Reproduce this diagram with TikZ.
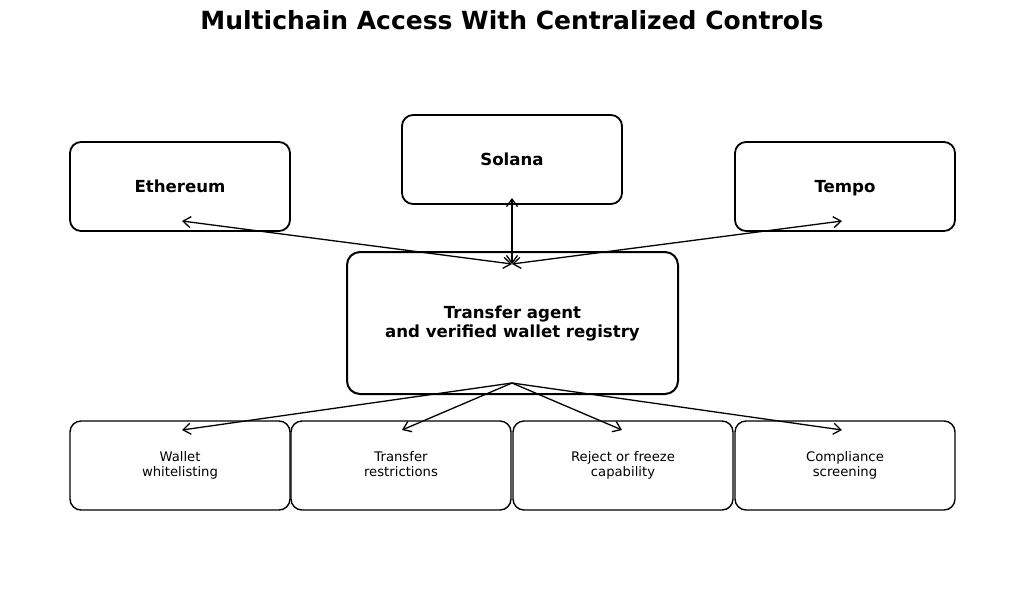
\documentclass[tikz,border=0pt]{standalone}
\usepackage{fontspec}
\setmainfont{DejaVu Sans}
\usetikzlibrary{arrows.meta}
\begin{document}
\begin{tikzpicture}[x=1pt,y=-1pt,
  boxtext/.style 2 args={execute at begin node={\rule{0pt}{#1}}, execute at end node={\rule[-#2]{0pt}{#2}}},
  chain/.style={boxtext={15.3pt}{3.7pt},draw=black,line width=1.8pt,rounded corners=11pt,minimum width=220pt,minimum height=89pt,align=center,font=\bfseries\fontsize{16.6}{19}\selectfont,inner sep=0pt},
  core/.style={boxtext={16.3pt}{2.7pt},draw=black,line width=2pt,rounded corners=13pt,minimum width=331pt,minimum height=142pt,align=center,font=\bfseries\fontsize{16.6}{19}\selectfont,inner sep=0pt},
  ctrl/.style={boxtext={12.5pt}{2.5pt},draw=black,line width=1.4pt,rounded corners=11pt,minimum width=220pt,minimum height=89pt,align=center,font=\fontsize{13.2}{15}\selectfont,inner sep=0pt},
  link/.style={line width=1.3pt,-{Straight Barb[length=7.5pt,width=11pt,line width=1.3pt]}},
  blink/.style={line width=1.3pt,{Straight Barb[length=7.5pt,width=11pt,line width=1.3pt]}-{Straight Barb[length=7.5pt,width=11pt,line width=1.3pt]}}
]
\useasboundingbox (0,0) rectangle (1024,595);
\node[font=\bfseries\fontsize{25}{29}\selectfont] (title) at (512,20) {Multichain Access With Centralized Controls};

\node[chain] (eth) at (180,186.5) {Ethereum};
\node[chain] (sol) at (512,159.5) {Solana};
\node[chain] (tempo) at (845,186.5) {Tempo};
\node[core] (core) at (512.5,323) {Transfer agent\\and verified wallet registry};

\node[ctrl] (w) at (180,465.5) {Wallet\\whitelisting};
\node[ctrl] (t) at (401,465.5) {Transfer\\restrictions};
\node[ctrl] (r) at (623,465.5) {Reject or freeze\\capability};
\node[ctrl] (c) at (845,465.5) {Compliance\\screening};

\coordinate (coretop) at (512,264);
\coordinate (corebot) at (512,383);
\coordinate (ethp) at (182,221);
\coordinate (solp) at (512,198);
\coordinate (tempop) at (842,221);
\coordinate (wp) at (182,430);
\coordinate (tp) at (402,430);
\coordinate (rp) at (622,430);
\coordinate (cp) at (842,430);

\draw[blink] (coretop) -- (ethp);
\draw[blink] (coretop) -- (solp);
\draw[blink] (coretop) -- (tempop);

\draw[link] (corebot) -- (wp);
\draw[link] (corebot) -- (tp);
\draw[link] (corebot) -- (rp);
\draw[link] (corebot) -- (cp);
\end{tikzpicture}
\end{document}
